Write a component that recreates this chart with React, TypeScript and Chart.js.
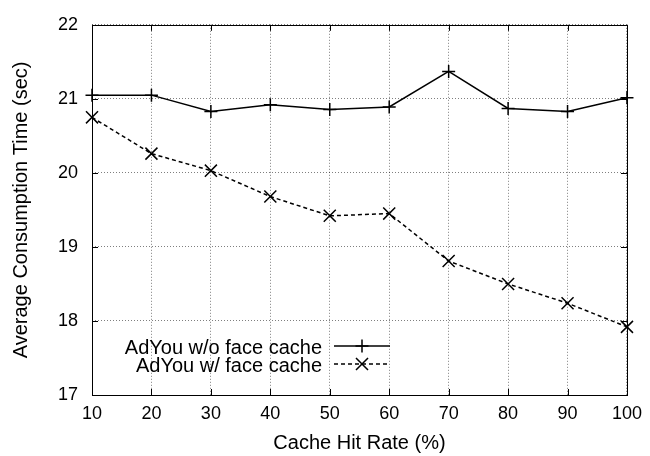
import React, { useEffect, useRef } from "react";
import { Chart, registerables } from "chart.js";

Chart.register(...registerables);

const hitRates = [10, 20, 30, 40, 50, 60, 70, 80, 90, 100];
const withoutCache = [21.05, 21.05, 20.83, 20.92, 20.855, 20.89, 21.37, 20.87, 20.83, 21.015];
const withCache = [20.75, 20.26, 20.03, 19.68, 19.42, 19.45, 18.81, 18.5, 18.24, 17.92];
const seriesLabels = ["AdYou w/o face cache", "AdYou w/ face cache"];
const xTitle = "Cache Hit Rate (%)";
const yTitle = "Average Consumption Time (sec)";

const FONT = '"Liberation Sans", Arial, Helvetica, sans-serif';

const frameAndLegend = {
  id: "frameAndLegend",
  afterDraw(chart: any) {
    const { ctx, chartArea } = chart;
    const { left, right, top, bottom } = chartArea;
    ctx.save();
    ctx.strokeStyle = "#000";
    ctx.lineWidth = 1;
    ctx.setLineDash([]);
    ctx.strokeRect(Math.round(left) + 0.5, Math.round(top) + 0.5, Math.round(right - left), Math.round(bottom - top));
    const tl = 6;
    const xs = chart.scales.x;
    const ys = chart.scales.y;
    ctx.beginPath();
    xs.ticks.forEach((t: any) => {
      const px = Math.round(xs.getPixelForValue(t.value)) + 0.5;
      ctx.moveTo(px, bottom);
      ctx.lineTo(px, bottom - tl);
      ctx.moveTo(px, top);
      ctx.lineTo(px, top + tl);
    });
    ys.ticks.forEach((t: any) => {
      const py = Math.round(ys.getPixelForValue(t.value)) + 0.5;
      ctx.moveTo(left, py);
      ctx.lineTo(left + tl, py);
      ctx.moveTo(right, py);
      ctx.lineTo(right - tl, py);
    });
    ctx.stroke();

    // legend
    const textRight = left + 230;
    const lx0 = left + 242;
    const lx1 = left + 298;
    const rowsY = [bottom - 49, bottom - 31];
    ctx.font = "20px " + FONT;
    ctx.fillStyle = "#000";
    ctx.textAlign = "right";
    ctx.textBaseline = "middle";
    chart.data.datasets.forEach((ds: any, i: number) => {
      const y = rowsY[i];
      ctx.fillText(ds.label, textRight, y + 2);
      ctx.strokeStyle = "#000";
      ctx.lineWidth = ds.borderWidth;
      ctx.setLineDash(ds.borderDash || []);
      ctx.beginPath();
      ctx.moveTo(lx0, y);
      ctx.lineTo(lx1, y);
      ctx.stroke();
      ctx.setLineDash([]);
      const cx = (lx0 + lx1) / 2;
      ctx.beginPath();
      if (ds.pointStyle === "cross") {
        const r = ds.pointRadius;
        ctx.moveTo(cx - r, y);
        ctx.lineTo(cx + r, y);
        ctx.moveTo(cx, y - r);
        ctx.lineTo(cx, y + r);
      } else {
        const r = ds.pointRadius * Math.SQRT1_2;
        ctx.moveTo(cx - r, y - r);
        ctx.lineTo(cx + r, y + r);
        ctx.moveTo(cx - r, y + r);
        ctx.lineTo(cx + r, y - r);
      }
      ctx.stroke();
    });
    ctx.restore();
  },
};

export default function App() {
  const ref = useRef<HTMLCanvasElement | null>(null);
  useEffect(() => {
    if (!ref.current) return;
    const chart = new Chart(ref.current, {
      type: "line",
      data: {
        datasets: [
          {
            label: seriesLabels[0],
            data: hitRates.map((x, i) => ({ x, y: withoutCache[i] })),
            borderColor: "#000",
            backgroundColor: "#000",
            borderWidth: 1.5,
            pointStyle: "cross",
            pointRadius: 6.5,
            pointBorderWidth: 1.5,
            pointBorderColor: "#000",
            tension: 0,
            fill: false,
            clip: false,
          },
          {
            label: seriesLabels[1],
            data: hitRates.map((x, i) => ({ x, y: withCache[i] })),
            borderColor: "#000",
            backgroundColor: "#000",
            borderWidth: 1.5,
            borderDash: [4, 3],
            pointStyle: "crossRot",
            pointRadius: 8.5,
            pointBorderWidth: 1.5,
            pointBorderColor: "#000",
            tension: 0,
            fill: false,
            clip: false,
          },
        ],
      },
      options: {
        responsive: false,
        animation: false,
        devicePixelRatio: 1,
        layout: { autoPadding: false, padding: { left: 0, top: 20, right: 19, bottom: 0 } },
        plugins: { legend: { display: false }, tooltip: { enabled: false } },
        scales: {
          x: {
            type: "linear",
            min: 10,
            max: 100,
            ticks: { stepSize: 10, color: "#000", font: { family: FONT, size: 18 }, padding: 8, maxRotation: 0 },
            grid: { color: "rgba(0,0,0,0.5)", drawTicks: false, lineWidth: 1 },
            border: { display: false, dash: [1, 2] },
            title: { display: true, text: xTitle, color: "#000", font: { family: FONT, size: 20 }, padding: { top: 0, bottom: 1 } },
            afterFit: (s: any) => {
              s.height = 61;
            },
          },
          y: {
            min: 17,
            max: 22,
            ticks: { stepSize: 1, color: "#000", font: { family: FONT, size: 18 }, padding: 14 },
            grid: { color: "rgba(0,0,0,0.5)", drawTicks: false, lineWidth: 1 },
            border: { display: false, dash: [1, 2] },
            title: { display: true, text: yTitle, color: "#000", font: { family: FONT, size: 20 }, padding: { top: 9, bottom: 0 } },
            afterFit: (s: any) => {
              s.width = 92;
            },
          },
        },
      },
      plugins: [frameAndLegend],
    });
    return () => chart.destroy();
  }, []);
  return (
    <div style={{ position: "absolute", left: 0, top: 0, width: 650, height: 456, background: "#fff" }}>
      <canvas ref={ref} width={650} height={456} />
    </div>
  );
}
